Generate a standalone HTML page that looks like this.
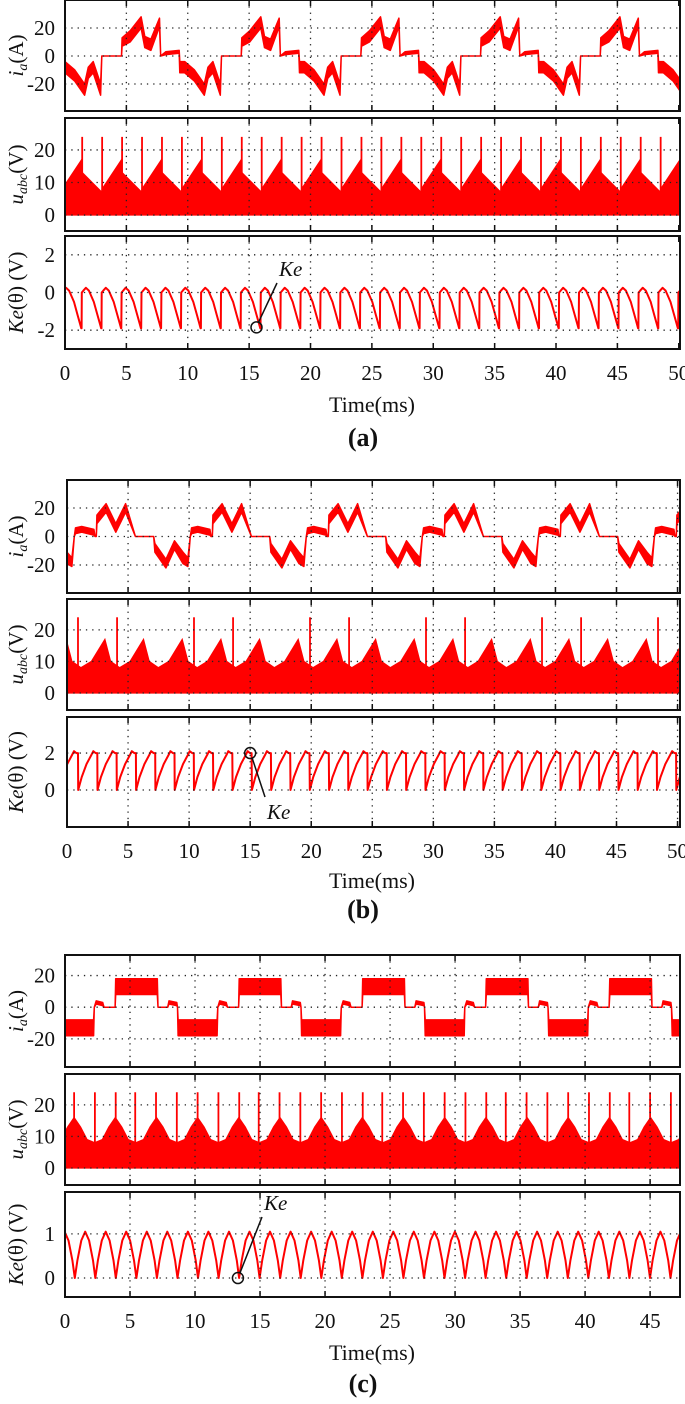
<!DOCTYPE html>
<html><head><meta charset="utf-8"><style>
html,body{margin:0;padding:0;background:#fff}
svg{display:block}
text{font-family:"Liberation Serif",serif;fill:#111}
</style></head><body>
<svg id="fig" width="685" height="1404" viewBox="0 0 685 1404" xmlns="http://www.w3.org/2000/svg"></svg>
<script>
// ---------- data (one period templates) ----------
// panel (a)
const aTicksX = [0,5,10,15,20,25,30,35,40,45,50];
const aIdPeriod = 9.75, aIdPhase = 0;
const aIdT = [0,0.8,1.6,1.9,2.3,2.9,3.0,4.6,4.65,5.3,6.2,6.5,7.0,7.7,7.8,8.2,9.3,9.35];
const aIdV = [-8,-14,-24,-12,-8,-24,0,0,10,14,24,10,8,24,0,2,3,-8];
const aIdH = [4,4,4,4,4,4,0,0,3,4,4,4,4,3,0,1,1,4];
const aUPeriod = 3.25, aUPhase = 1.4;
const aUT = [0.02,1.6,1.625,3.2,3.25];
const aUV = [13,7,8,17,13];
const aSpikeT = [0,1.625];
const aSpikeV = [24,24];
const aKePeriod = 1.62, aKePhase = 1.35;
const aKeT = [0,0.02,0.15,0.35,0.6,1.0,1.3,1.6];
const aKeV = [-1.9,0,0.1,0.25,0.1,-0.5,-1.2,-1.9];
// panel (b)
const bIdPeriod = 9.5, bIdPhase = 0;
const bIdT = [0,0.4,0.6,0.7,1.2,2.2,2.3,2.4,2.45,3.2,4.0,4.8,5.6,7.1,7.2,8.1,8.8,9.5];
const bIdV = [-15,-18,0,4,5,3,0,0,12,20,6,20,0,0,-8,-19,-6,-15];
const bIdH = [4,3,0,2,2,2,0,0,3,3,3,3,0,0,3,3,3,4];
const bUPeriod = 3.167, bUPhase = 0;
const bUT = [0,0.4,1.15,2.0,3.1,3.167];
const bUV = [16,10,8,10,17,16];
const bSpikePeriod = 9.5;
const bSpikeT = [0.9,4.1];
const bKePeriod = 1.58, bKePhase = 0.9;
const bKeT = [0,0.02,0.3,0.7,1.1,1.25,1.45,1.56];
const bKeV = [2.0,0,0.7,1.4,1.9,2.1,2.0,2.0];
// panel (c)
const cTicksX = [0,5,10,15,20,25,30,35,40,45];
const cIdPeriod = 9.5, cIdPhase = 0;
const cIdT = [0,2.2,2.25,2.4,2.9,3.0,3.85,3.9,7.1,7.15,7.9,8.0,8.6,8.65,8.7,9.5];
const cIdV = [-13,-13,0,3,2,0,0,13,13,0,0,3,2,0,-13,-13];
const cIdH = [5,5,0,1,1,0,0,5,5,0,0,1,1,0,5,5];
const cUPeriod = 3.167, cUPhase = 0.7;
const cUT = [-1.58,-1.0,-0.5,0,0.5,1.0,1.58];
const cUV = [8,9,13,16,13,9,8];
const cSpikePeriod = 9.5;
const cSpikeT = [0.7,2.3,3.9,5.4,7.0,8.6];
const cKePeriod = 1.58, cKePhase = 0.75;
const cKeT = [0,0.2,0.5,0.8,1.1,1.4,1.58];
const cKeV = [0,0.4,0.85,1.05,0.85,0.4,0];

// ---------- drawing ----------
const NS = "http://www.w3.org/2000/svg";
const svg = document.getElementById('fig');
function mk(tag, attrs, parent){
  const e = document.createElementNS(NS, tag);
  for (const k in attrs) e.setAttribute(k, attrs[k]);
  (parent||svg).appendChild(e);
  return e;
}
let clipId = 0;
function repeatPts(T, V, P, phase, tmax){
  const out = [];
  for (let k = -2; k * P + phase < tmax + P; k++)
    for (let i = 0; i < T.length; i++) out.push([phase + k*P + T[i], V[i]]);
  return out;
}
function axes(px0, px1, tmax, top, bot, ymin, ymax){
  return {
    x: t => px0 + (t/ tmax) * (px1 - px0),
    y: v => bot - (v - ymin) / (ymax - ymin) * (bot - top)
  };
}
function frame(g, px0, px1, top, bot, ax, xticks, yticks, title, name){
  xticks.forEach(t => {
    const x = ax.x(t);
    if (x > px0 + 2 && x < px1 - 2) {
      const l = mk('line', {x1:x, x2:x, y1:top, y2:bot, stroke:'#222', 'stroke-width':1.3, 'stroke-dasharray':'1.3 5'}, g);
      
      
    }
    mk('line', {x1:x, x2:x, y1:top, y2:top+6, stroke:'#111', 'stroke-width':1.5}, g);
    mk('line', {x1:x, x2:x, y1:bot, y2:bot-6, stroke:'#111', 'stroke-width':1.5}, g);
  });
  yticks.forEach(v => {
    const y = ax.y(v);
    const l = mk('line', {x1:px0, x2:px1, y1:y, y2:y, stroke:'#222', 'stroke-width':1.3, 'stroke-dasharray':'1.3 5'}, g);
    
    
    const tx = mk('text', {x:55, y:y+7, 'text-anchor':'end', 'font-size':21}, g);
    tx.textContent = String(v);
    
    
  });
  const b = mk('rect', {x:px0, y:top, width:px1-px0, height:bot-top, fill:'none', stroke:'#111', 'stroke-width':2}, g);
  
  
  const cy = (top + bot) / 2;
  const tt = mk('text', {x:0, y:0, 'text-anchor':'middle', 'font-size':21, transform:`translate(23,${cy}) rotate(-90)`}, g);
  
  
  tt.innerHTML = title;
}
function clip(px0, px1, top, bot){
  const id = 'c' + (clipId++);
  const cp = mk('clipPath', {id});
  mk('rect', {x:px0+1, y:top+1, width:px1-px0-2, height:bot-top-2}, cp);
  return `url(#${id})`;
}
function drawBand(g, ax, T, V, H, P, phase, tmax, name){
  const up = repeatPts(T, V.map((v,i)=>v+H[i]), P, phase, tmax);
  const lo = repeatPts(T, V.map((v,i)=>v-H[i]), P, phase, tmax).reverse();
  const pts = up.concat(lo).map(p => ax.x(p[0]).toFixed(1) + ',' + ax.y(p[1]).toFixed(1)).join(' ');
  const pg = mk('polygon', {points:pts, fill:'#ff0000', stroke:'#ff0000', 'stroke-width':1.5, 'stroke-linejoin':'round'}, g);
  
  
}
function drawEnv(g, ax, T, V, P, phase, tmax, name){
  const up = repeatPts(T, V, P, phase, tmax);
  const pts = [[up[0][0],0]].concat(up).concat([[up[up.length-1][0],0]])
    .map(p => ax.x(p[0]).toFixed(1) + ',' + ax.y(p[1]).toFixed(1)).join(' ');
  const pg = mk('polygon', {points:pts, fill:'#ff0000', stroke:'#ff0000', 'stroke-width':1.2}, g);
  
  
}
function drawSpikes(g, ax, T, P, phase, tmax, name){
  for (let k = -1; k * P < tmax + P; k++) T.forEach(t => {
    const tt = phase + k*P + t;
    if (tt < 0 || tt > tmax) return;
    const l = mk('line', {x1:ax.x(tt), x2:ax.x(tt), y1:ax.y(0), y2:ax.y(24), stroke:'#ff0000', 'stroke-width':1.8}, g);
    
    
  });
}
function drawLine(g, ax, T, V, P, phase, tmax, name){
  const pts = repeatPts(T, V, P, phase, tmax).map(p => ax.x(p[0]).toFixed(1) + ',' + ax.y(p[1]).toFixed(1)).join(' ');
  const pl = mk('polyline', {points:pts, fill:'none', stroke:'#ff0000', 'stroke-width':2, 'stroke-linejoin':'round'}, g);
  
  
}
function xLabels(g, ax, ticks, y){
  ticks.forEach(t => {
    const tx = mk('text', {x:ax.x(t), y:y, 'text-anchor':'middle', 'font-size':21}, g);
    tx.textContent = t;
    
    
  });
}
function annot(g, cx, cy, lx, ly, tx, ty){
  const c = mk('circle', {cx, cy, r:5.5, fill:'none', stroke:'#111', 'stroke-width':1.5}, g);
  
  
  const l = mk('line', {x1:cx + 2, y1:cy + (ly<cy?-5:5), x2:lx, y2:ly, stroke:'#111', 'stroke-width':1.5}, g);
  
  
  const t = mk('text', {x:tx, y:ty, 'font-size':21, 'font-style':'italic'}, g);
  t.textContent = 'Ke';
  
  
}
const T_ID = '<tspan font-style="italic">i</tspan><tspan font-style="italic" font-size="14" dy="4">a</tspan><tspan dy="-4">(A)</tspan>';
const T_U = '<tspan font-style="italic">u</tspan><tspan font-style="italic" font-size="14" dy="4">abc</tspan><tspan dy="-4">(V)</tspan>';
const T_KE = '<tspan font-style="italic">Ke</tspan>(θ) (V)';

function panel(cfg){
  const g = mk('g', {});
  
  
  cfg.subs.forEach((s, i) => {
    const ax = axes(cfg.px0, cfg.px1, cfg.tmax, s.top, s.bot, s.ymin, s.ymax);
    const sg = mk('g', {}, g);
    
    
    const dg = mk('g', {'clip-path': clip(cfg.px0, cfg.px1, s.top, s.bot)}, sg);
    s.draw(dg, ax);
    frame(sg, cfg.px0, cfg.px1, s.top, s.bot, ax, cfg.xticks, s.yticks, s.title, s.key);
    if (s.annot) annot(sg, ...s.annot(ax));
    if (i === cfg.subs.length - 1) xLabels(sg, ax, cfg.xticks, s.bot + 31);
  });
  const t1 = mk('text', {x:cfg.timeX, y:cfg.timeY, 'text-anchor':'middle', 'font-size':22}, g);
  t1.textContent = 'Time(ms)';
  
  
  const t2 = mk('text', {x:cfg.capX, y:cfg.capY, 'text-anchor':'middle', 'font-size':26, 'font-weight':'bold'}, g);
  t2.textContent = cfg.cap;
  
  
}

panel({name:'panel-a', px0:65, px1:680, tmax:50.1, xticks:aTicksX, timeX:372, timeY:412, capX:363, capY:446, cap:'(a)',
  subs:[
    {key:'current-plot', top:0, bot:111, ymin:-39.3, ymax:40, yticks:[20,0,-20], title:T_ID,
     draw:(g,ax)=>drawBand(g,ax,aIdT,aIdV,aIdH,aIdPeriod,aIdPhase,50.1,'ia-series')},
    {key:'voltage-plot', top:118, bot:231, ymin:-4.9, ymax:29.8, yticks:[20,10,0], title:T_U,
     draw:(g,ax)=>{drawEnv(g,ax,aUT,aUV,aUPeriod,aUPhase,50.1,'uabc-series');drawSpikes(g,ax,aSpikeT,aUPeriod,aUPhase,50.1,'uabc-spike');}},
    {key:'ke-plot', top:236, bot:349, ymin:-3.0, ymax:3.0, yticks:[2,0,-2], title:T_KE,
     draw:(g,ax)=>drawLine(g,ax,aKeT,aKeV,aKePeriod,aKePhase,50.1,'ke-series'),
     annot:ax=>[ax.x(15.6), ax.y(-1.85), 277, 283, 279, 276]}
  ]});
panel({name:'panel-b', px0:67, px1:680, tmax:50.2, xticks:aTicksX, timeX:372, timeY:888, capX:363, capY:918, cap:'(b)',
  subs:[
    {key:'current-plot', top:480, bot:593, ymin:-39.6, ymax:39.6, yticks:[20,0,-20], title:T_ID,
     draw:(g,ax)=>drawBand(g,ax,bIdT,bIdV,bIdH,bIdPeriod,bIdPhase,50.2,'ia-series')},
    {key:'voltage-plot', top:599, bot:710, ymin:-5.4, ymax:29.8, yticks:[20,10,0], title:T_U,
     draw:(g,ax)=>{drawEnv(g,ax,bUT,bUV,bUPeriod,bUPhase,50.2,'uabc-series');drawSpikes(g,ax,bSpikeT,bSpikePeriod,0,50.2,'uabc-spike');}},
    {key:'ke-plot', top:717, bot:827, ymin:-2.0, ymax:3.95, yticks:[2,0], title:T_KE,
     draw:(g,ax)=>drawLine(g,ax,bKeT,bKeV,bKePeriod,bKePhase,50.2,'ke-series'),
     annot:ax=>[ax.x(15.0), ax.y(2.0), 265, 797, 267, 819]}
  ]});
panel({name:'panel-c', px0:65, px1:680, tmax:47.3, xticks:cTicksX, timeX:372, timeY:1360, capX:363, capY:1392, cap:'(c)',
  subs:[
    {key:'current-plot', top:955, bot:1067, ymin:-37.8, ymax:33, yticks:[20,0,-20], title:T_ID,
     draw:(g,ax)=>drawBand(g,ax,cIdT,cIdV,cIdH,cIdPeriod,cIdPhase,47.3,'ia-series')},
    {key:'voltage-plot', top:1074, bot:1185, ymin:-5.4, ymax:29.8, yticks:[20,10,0], title:T_U,
     draw:(g,ax)=>{drawEnv(g,ax,cUT,cUV,cUPeriod,cUPhase,47.3,'uabc-series');drawSpikes(g,ax,cSpikeT,cSpikePeriod,0,47.3,'uabc-spike');}},
    {key:'ke-plot', top:1192, bot:1297, ymin:-0.43, ymax:1.95, yticks:[1,0], title:T_KE,
     draw:(g,ax)=>drawLine(g,ax,cKeT,cKeV,cKePeriod,cKePhase,47.3,'ke-series'),
     annot:ax=>[ax.x(13.3), ax.y(0), 262, 1217, 264, 1210]}
  ]});
</script>
</body></html>
